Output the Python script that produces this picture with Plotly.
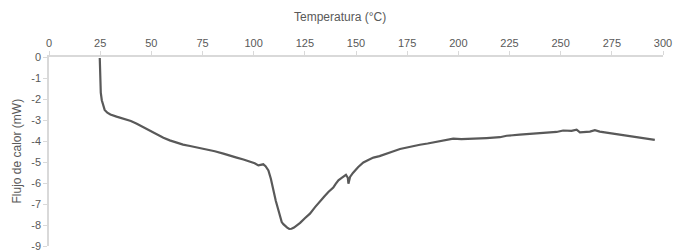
import plotly.graph_objects as go

temperatura = [24.8, 24.9, 25.0, 25.3, 25.8, 26.5, 27.2, 28.5, 30.0, 33.0, 36.4, 40.0, 42.9, 46.0, 49.4,
               52.5, 55.9, 59.0, 62.4, 65.5, 68.9, 73.0, 77.1, 81.0, 85.2, 88.5, 91.7, 95.0, 98.2, 100.5,
               102.3, 103.5, 104.7, 105.8, 107.2, 108.4, 109.6, 110.8, 112.1, 113.0, 113.7, 114.5, 115.3,
               116.4, 117.4, 118.5, 119.7, 121.0, 122.7, 125.0, 127.5, 130.0, 132.4, 134.5, 136.5, 137.5,
               138.9, 140.0, 141.4, 143.0, 145.1, 146.0, 146.3, 147.1, 148.5, 151.1, 153.6, 156.0, 158.5,
               161.5, 165.0, 168.0, 171.5, 176.0, 181.2, 185.0, 189.4, 193.5, 197.5, 201.5, 205.7, 210.0,
               213.8, 220.3, 223.6, 230.0, 236.6, 242.0, 248.0, 251.2, 255.3, 257.8, 259.4, 264.3, 266.7,
               269.1, 280.0, 296.0]
flujo = [-0.05, -0.6, -1.27, -1.7, -2.06, -2.35, -2.52, -2.65, -2.74, -2.84, -2.93, -3.05, -3.18, -3.34, -3.52,
         -3.68, -3.84, -3.97, -4.08, -4.17, -4.24, -4.32, -4.40, -4.49, -4.60, -4.68, -4.79, -4.88, -4.97, -5.06,
         -5.16, -5.13, -5.11, -5.20, -5.40, -5.80, -6.35, -6.85, -7.30, -7.62, -7.86, -7.96, -8.01,
         -8.12, -8.19, -8.18, -8.12, -8.03, -7.90, -7.68, -7.46, -7.15, -6.86, -6.64, -6.43, -6.36,
         -6.22, -6.05, -5.87, -5.76, -5.61, -5.75, -6.03, -5.71, -5.52, -5.24, -5.02, -4.90, -4.79,
         -4.72, -4.62, -4.50, -4.38, -4.28, -4.18, -4.12, -4.03, -3.96, -3.89, -3.91, -3.90, -3.88,
         -3.86, -3.82, -3.75, -3.70, -3.66, -3.62, -3.57, -3.50, -3.52, -3.46, -3.59, -3.55, -3.48,
         -3.55, -3.70, -3.95]
x_ticks = list(range(0, 301, 25))
y_ticks = list(range(-9, 1))
x_title = "Temperatura (°C)"
y_title = "Flujo de calor (mW)"

assert len(temperatura) == len(flujo)

FONT = "Liberation Sans"
GREY = "#595959"
AXIS = "#d9d9d9"

fig = go.Figure(go.Scatter(x=temperatura, y=flujo, mode="lines",
                           line=dict(color=GREY, width=2.2), hoverinfo="skip"))

fig.update_layout(
    width=674, height=250,
    margin=dict(l=49, r=11, t=57, b=4, autoexpand=False),
    paper_bgcolor="white", plot_bgcolor="white",
    showlegend=False,
    font=dict(family=FONT, color=GREY, size=11),
    xaxis=dict(side="top", range=[0, 300], tickvals=x_ticks, ticktext=[str(t) for t in x_ticks],
               showgrid=False, zeroline=False, showline=True, linecolor=AXIS, linewidth=1.5,
               ticks="outside", tickcolor=AXIS, ticklen=4, automargin=False,
               ticklabeloverflow="allow", tickfont=dict(size=11, color=GREY)),
    yaxis=dict(range=[-9, 0], tickvals=y_ticks, ticktext=[str(t) for t in y_ticks],
               showgrid=False, zeroline=False, showline=True, linecolor=AXIS, linewidth=1.5,
               ticks="outside", tickcolor=AXIS, ticklen=4, automargin=False,
               ticklabeloverflow="allow", tickfont=dict(size=11, color=GREY)),
    annotations=[
        dict(text=x_title, xref="paper", yref="paper", x=(340 - 49) / 614, y=1 + (57 - 17) / 189,
             xanchor="center", yanchor="middle", showarrow=False, font=dict(size=12, color=GREY, family=FONT)),
        dict(text=y_title, xref="paper", yref="paper", x=-(49 - 16) / 614, y=0.5, textangle=-90,
             xanchor="center", yanchor="middle", showarrow=False, font=dict(size=12, color=GREY, family=FONT)),
    ],
)

fig.write_html("out.html", config={"displayModeBar": False},
               post_script="document.body.style.margin='0';document.body.style.overflow='hidden';")
